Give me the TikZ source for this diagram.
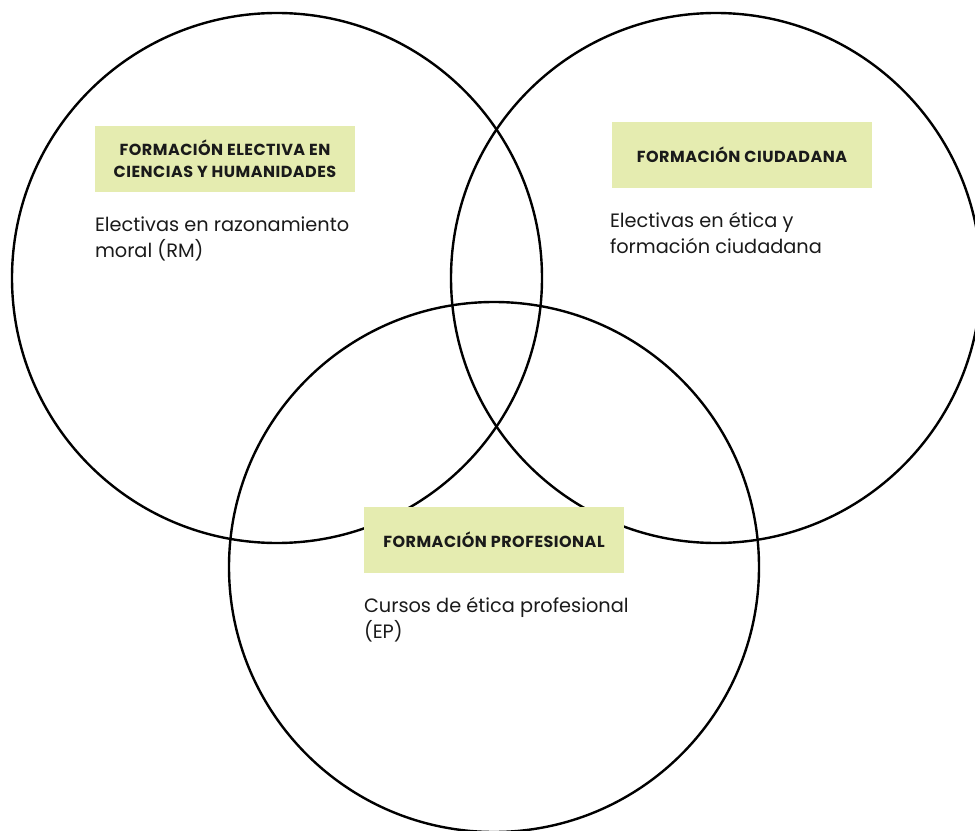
\documentclass[tikz,border=0pt]{standalone}
\usepackage{fontspec}
\setmainfont{Poppins}
\newfontfamily\tagfont[LetterSpace=3]{Poppins}
\usetikzlibrary{positioning}
\definecolor{tagfill}{RGB}{229,236,176}
\definecolor{ink}{RGB}{26,26,26}

\begin{document}
\begin{tikzpicture}[x=0.75pt, y=-0.75pt, node distance=18pt,
  ring/.style={draw, circle, line width=1.8pt, minimum size=397.5pt, inner sep=0pt},
  tag/.style={fill=tagfill, minimum width=195pt, minimum height=49.5pt, align=center, text=ink,
    font=\tagfont\bfseries\fontsize{12}{16.5}\selectfont},
  body/.style={align=left, inner sep=0pt, text=ink, font=\fontsize{14.5}{19.5}\selectfont}]
  \clip (0,0) rectangle (975,831);
  % the three circles
  \node[ring] (rm) at (277,278) {};
  \node[ring] (fc) at (716,278) {};
  \node[ring] (ep) at (494,567) {};
  % headings
  \node[tag] (rmtag) at (225,159) {FORMACIÓN ELECTIVA EN\\CIENCIAS Y HUMANIDADES};
  \node[tag] (fctag) at (742,155) {FORMACIÓN CIUDADANA};
  \node[tag] (eptag) at (494,540) {FORMACIÓN PROFESIONAL};
  % contents
  \node[body, below=of rmtag.south west, anchor=north west] (rmtext) {Electivas en razonamiento\\moral (RM)};
  \node[body, below=of fctag.south west, anchor=north west, xshift=-1.5pt] (fctext) {Electivas en ética y\\formación ciudadana};
  \node[body, below=of eptag.south west, anchor=north west] (eptext) {Cursos de ética profesional\\(EP)};
\end{tikzpicture}
\end{document}
